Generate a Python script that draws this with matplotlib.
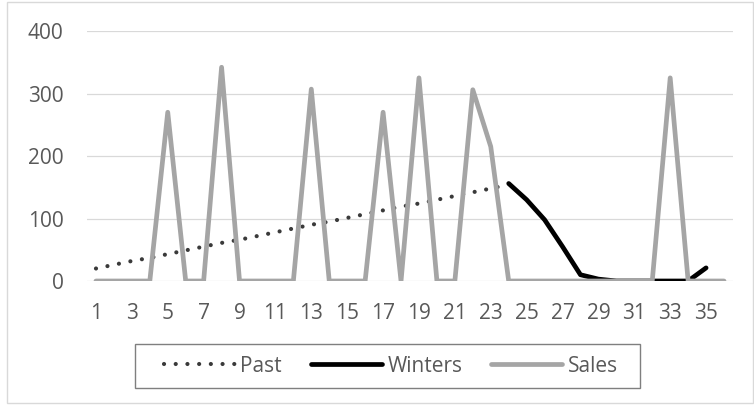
"""Sales vs. past trend vs. Winters forecast, Excel-style line chart."""
import matplotlib

matplotlib.use("Agg")
import matplotlib.pyplot as plt  # noqa: E402
from matplotlib.patches import Rectangle  # noqa: E402

plt.rcParams["font.family"] = ["Open Sans", "DejaVu Sans"]

periods = list(range(1, 37))
sales = [0, 0, 0, 0, 270, 0, 0, 342, 0, 0, 0, 0, 307, 0, 0, 0, 270, 0,
         325, 0, 0, 306, 215, 0, 0, 0, 0, 0, 0, 0, 0, 0, 325, 0, 0, 0]
past_periods = list(range(1, 25))
past = [20, 26, 32, 37, 43, 49, 55, 61, 66, 72, 78, 84,
        90, 95, 101, 107, 113, 119, 124, 130, 136, 142, 148, 154]
winters_periods = list(range(24, 36))
winters = [156, 130, 98, 55, 10, 3, 0, 0, 0, 0, 0, 21]
xtick_labels = [str(p) for p in range(1, 37, 2)]
yticks = [0, 100, 200, 300, 400]

W, H = 754, 405
TEXT = "#595959"
GRID = "#d9d9d9"


def px_box(x0, y0, x1, y1):
    """Pixel box (top-left origin) -> figure-fraction rectangle args."""
    return (x0 / W, 1 - y1 / H), (x1 - x0) / W, (y1 - y0) / H


fig = plt.figure(figsize=(W / 100, H / 100), dpi=100)
ax = fig.add_axes([87 / W, 1 - 281 / H, (733 - 87) / W, (281 - 31) / H])

ax.plot(past_periods, past, color="#3a3a3a", lw=3.0,
        linestyle=(0, (0.01, 2.8)), dash_capstyle="round", label="Past", zorder=3)
ax.plot(winters_periods, winters, color="black", lw=3.4,
        solid_capstyle="round", label="Winters", zorder=4)
ax.plot(periods, sales, color="#a5a5a5", lw=3.4,
        solid_capstyle="round", label="Sales", zorder=5)

ax.set_xlim(0.5, 36.5)
ax.set_ylim(0, 400)
ax.set_yticks(yticks)
ax.set_yticklabels([str(v) for v in yticks])
ax.set_xticks(range(1, 37, 2))
ax.set_xticklabels(xtick_labels)
ax.tick_params(length=0, labelsize=15, labelcolor=TEXT)
ax.tick_params(axis="y", pad=17)
ax.tick_params(axis="x", pad=16)
ax.grid(axis="y", color=GRID, lw=0.9)
ax.set_axisbelow(True)
for s in ax.spines.values():
    s.set_visible(False)

leg = fig.legend(loc="center", bbox_to_anchor=(391 / W, 1 - 366 / H),
                 ncol=3, fontsize=15, frameon=False,
                 handlelength=3.4, handletextpad=0.25, columnspacing=1.4,
                 borderpad=0.0)
for t in leg.get_texts():
    t.set_color(TEXT)

# legend box and chart area border
xy, w, h = px_box(135, 344, 640, 388)
fig.add_artist(Rectangle(xy, w, h, transform=fig.transFigure, fill=False,
                         edgecolor="#7f7f7f", lw=1.0))
xy, w, h = px_box(7, 2, 753, 403)
fig.add_artist(Rectangle(xy, w, h, transform=fig.transFigure, fill=False,
                         edgecolor=GRID, lw=1.0))

fig.savefig("out.png", dpi=100)
